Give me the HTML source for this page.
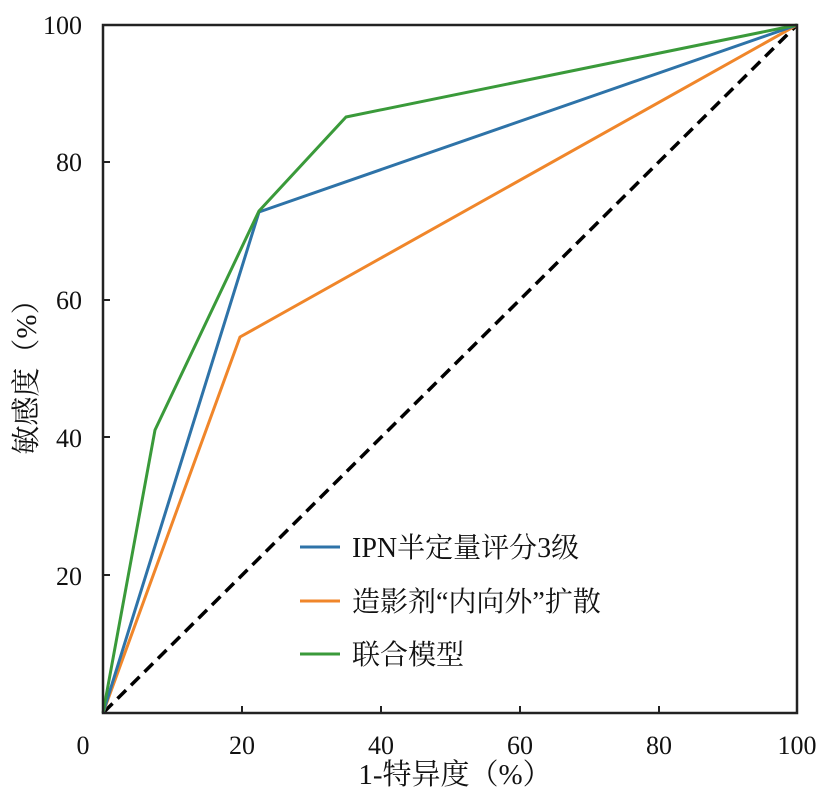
<!DOCTYPE html>
<html><head><meta charset="utf-8"><style>body{margin:0;background:#fff}</style></head><body>
<svg width="827" height="791" xmlns="http://www.w3.org/2000/svg" style="display:block">
<g font-family="'Liberation Serif','Noto Serif CJK SC',serif" font-size="26" fill="#111">
<text x="83" y="754" text-anchor="middle">0</text>
<text x="242" y="754" text-anchor="middle">20</text>
<text x="381" y="754" text-anchor="middle">40</text>
<text x="520" y="754" text-anchor="middle">60</text>
<text x="659" y="754" text-anchor="middle">80</text>
<text x="797" y="754" text-anchor="middle">100</text>
<text x="82" y="585" text-anchor="end">20</text>
<text x="82" y="447" text-anchor="end">40</text>
<text x="82" y="309" text-anchor="end">60</text>
<text x="82" y="171" text-anchor="end">80</text>
<text x="82" y="34" text-anchor="end">100</text>
<text x="455" y="784" text-anchor="middle" font-size="29">1-特异度（%）</text>
<text transform="translate(36,370) rotate(-90)" text-anchor="middle" font-size="29">敏感度（%）</text>
<g font-size="28">
<text x="352" y="557">IPN半定量评分3级</text>
<text x="352" y="611">造影剂“内向外”扩散</text>
<text x="352" y="664">联合模型</text>
</g>
</g>
<g stroke="#222" stroke-width="2">
<line x1="242" y1="713" x2="242" y2="706"/><line x1="381" y1="713" x2="381" y2="706"/><line x1="520" y1="713" x2="520" y2="706"/><line x1="659" y1="713" x2="659" y2="706"/>
<line x1="103" y1="575" x2="110" y2="575"/><line x1="103" y1="437" x2="110" y2="437"/><line x1="103" y1="300" x2="110" y2="300"/><line x1="103" y1="162" x2="110" y2="162"/>
</g>
<line x1="104" y1="712" x2="796" y2="26" stroke="#000" stroke-width="3.5" stroke-dasharray="12,7"/>
<g fill="none" stroke-width="3" stroke-linejoin="round">
<polyline points="103,713 240,337 797,25" stroke="#f0862a"/>
<polyline points="103,713 259,212 797,25" stroke="#2e73a8"/>
<polyline points="103,713 155,430 259,211 346,117 797,25" stroke="#3a9a3a"/>
</g>
<rect x="103" y="25" width="694" height="688" fill="none" stroke="#222" stroke-width="2.5"/>
<line x1="300" y1="547" x2="340" y2="547" stroke="#2e73a8" stroke-width="3"/>
<line x1="300" y1="601" x2="340" y2="601" stroke="#f0862a" stroke-width="3"/>
<line x1="300" y1="654" x2="340" y2="654" stroke="#3a9a3a" stroke-width="3"/>
</svg>
</body></html>
